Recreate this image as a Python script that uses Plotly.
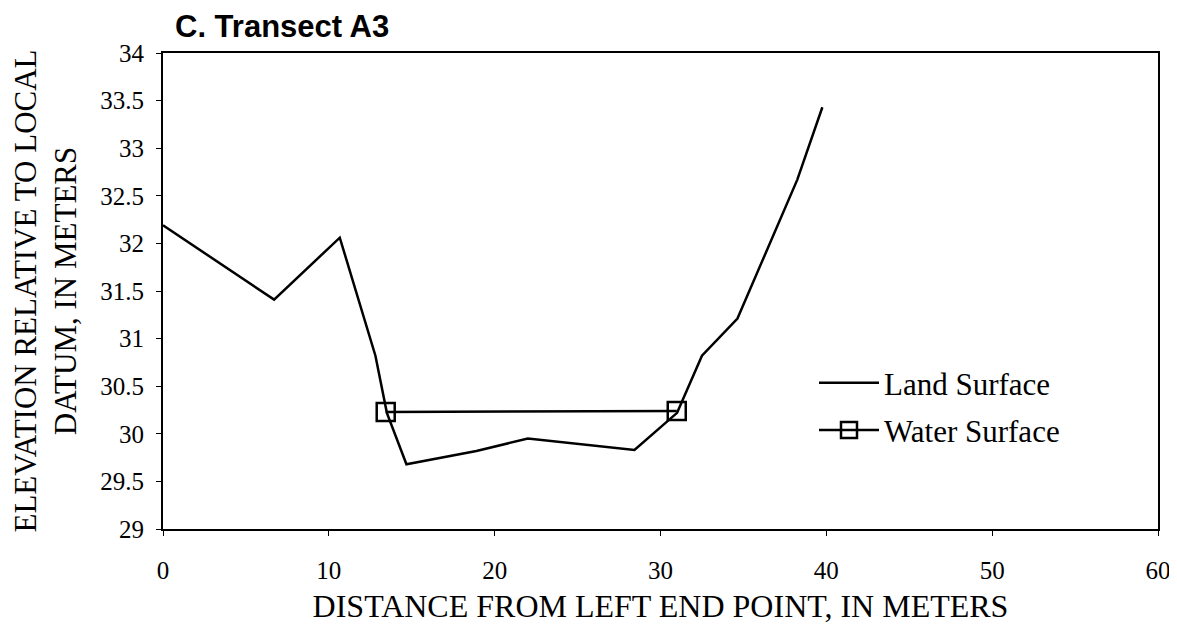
import plotly.graph_objects as go

# Land surface profile
land_x = [0, 6.7, 10.66, 12.81, 13.5, 14.68, 18.9, 22.0, 28.43, 31.0, 32.5, 34.64, 38.25, 39.76]
land_y = [32.19, 31.41, 32.06, 30.82, 30.22, 29.68, 29.82, 29.95, 29.83, 30.22, 30.82, 31.21, 32.67, 33.43]

# Water surface
water_x = [13.43, 30.98]
water_y = [30.23, 30.24]

x_ticks = [0, 10, 20, 30, 40, 50, 60]
y_ticks = [29, 29.5, 30, 30.5, 31, 31.5, 32, 32.5, 33, 33.5, 34]
y_labels = ["29", "29.5", "30", "30.5", "31", "31.5", "32", "32.5", "33", "33.5", "34"]

serif = "Liberation Serif, serif"

# page body has an 8px margin; figure is sized to fit the window
W, H = 1169, 630
OFF = 8

fig = go.Figure()
fig.add_trace(go.Scatter(
    x=land_x, y=land_y, mode="lines", name="Land Surface", legendgroup="a",
    line=dict(color="black", width=2.5),
))
fig.add_trace(go.Scatter(
    x=water_x, y=water_y, mode="lines+markers", name="Water Surface", legendgroup="b",
    line=dict(color="black", width=2.5),
    marker=dict(symbol="square-open", size=18, color="black", line=dict(width=2.5, color="black")),
))

fig.update_layout(
    width=W, height=H,
    margin=dict(l=163 - OFF, r=W - (1158 - OFF), t=53 - OFF, b=H - (529 - OFF)),
    paper_bgcolor="white", plot_bgcolor="white",
    font=dict(family=serif, color="black", size=25),
    title=dict(
        text="<b>C. Transect A3</b>",
        font=dict(family="Liberation Sans, Arial, sans-serif", size=31, color="black"),
        x=(175 - OFF) / W, xanchor="left", y=1 - (26 - OFF) / H, yanchor="middle",
    ),
    showlegend=True,
    legend=dict(
        x=(814 - 163) / 995, y=(529 - 356) / 476, xanchor="left", yanchor="top",
        font=dict(family=serif, size=31, color="black"),
        bgcolor="rgba(0,0,0,0)", tracegroupgap=4, itemwidth=60,
        traceorder="grouped",
    ),
    xaxis=dict(
        range=[0, 60], tickvals=x_ticks, ticktext=[str(v) for v in x_ticks],
        showline=True, linecolor="black", linewidth=2, mirror=True,
        ticks="outside", ticklen=5, tickcolor="black", tickwidth=1,
        showgrid=False, zeroline=False, automargin=False,
        ticklabelstandoff=13,
        tickfont=dict(family=serif, size=25, color="black"),
        title=dict(text="DISTANCE FROM LEFT END POINT, IN METERS",
                   font=dict(family=serif, size=32, color="black"), standoff=12),
    ),
    yaxis=dict(
        range=[29, 34], tickvals=y_ticks, ticktext=y_labels,
        showline=True, linecolor="black", linewidth=2, mirror=True,
        ticks="outside", ticklen=5, tickcolor="black", tickwidth=1,
        showgrid=False, zeroline=False, automargin=False,
        ticklabelstandoff=7,
        tickfont=dict(family=serif, size=25, color="black"),
        title=dict(text="ELEVATION RELATIVE TO LOCAL<br>DATUM, IN METERS",
                   font=dict(family=serif, size=31, color="black"), standoff=15),
    ),
)

fig.write_html("out.html")
